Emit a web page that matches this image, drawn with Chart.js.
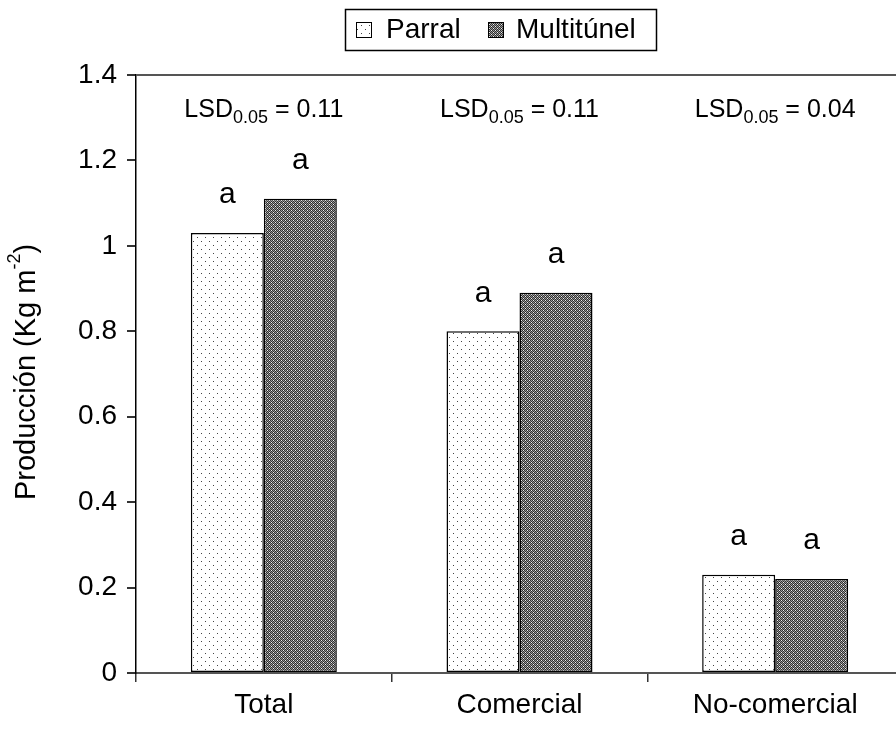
<!DOCTYPE html>
<html>
<head>
<meta charset="utf-8">
<script src="https://cdn.jsdelivr.net/npm/chart.js@4/dist/chart.umd.min.js"></script>
<style>
    html, body { margin: 0; padding: 0; background: #fff; overflow: hidden; }
</style>
</head>
<body>
<canvas id="grafico" width="903" height="731"></canvas>
<script>
const categorias = ['Total', 'Comercial', 'No-comercial'];
const parral = [1.03, 0.80, 0.23];
const multitunel = [1.11, 0.89, 0.22];
const letrasParral = ['a', 'a', 'a'];
const letrasMultitunel = ['a', 'a', 'a'];
const lsd = ['0.11', '0.11', '0.04'];
const etiquetas = ['Parral', 'Multitúnel'];

const FUENTE = '"Liberation Sans", Arial, sans-serif';

function patronPuntos() {
    const c = document.createElement('canvas');
    c.width = 8; c.height = 8;
    const g = c.getContext('2d');
    g.fillStyle = '#fff';
    g.fillRect(0, 0, 8, 8);
    g.fillStyle = '#444';
    g.fillRect(1, 1, 1, 1);
    g.fillRect(5, 5, 1, 1);
    return g.createPattern(c, 'repeat');
}

function patronDenso() {
    const c = document.createElement('canvas');
    c.width = 4; c.height = 4;
    const g = c.getContext('2d');
    for (let x = 0; x < 4; x++) {
        for (let y = 0; y < 4; y++) {
            g.fillStyle = (x + y) % 2 === 0 ? '#2e2e2e' : '#999';
            g.fillRect(x, y, 1, 1);
        }
    }
    g.fillStyle = '#eee';
    g.fillRect(1, 0, 1, 1);
    g.fillRect(3, 2, 1, 1);
    return g.createPattern(c, 'repeat');
}

const rellenos = [patronPuntos(), patronDenso()];

// letras, LSD, titulo del eje y leyenda
const anotaciones = {
    id: 'anotaciones',
    afterDatasetsDraw(chart) {
        const ctx = chart.ctx;
        const x = chart.scales.x;
        const letras = [letrasParral, letrasMultitunel];
        ctx.save();
        ctx.fillStyle = '#000';
        ctx.textAlign = 'center';
        ctx.textBaseline = 'middle';
        ctx.font = '30px ' + FUENTE;
        letras.forEach((arr, i) => {
            chart.getDatasetMeta(i).data.forEach((bar, j) => {
                ctx.fillText(arr[j], bar.x, bar.y - 38);
            });
        });

        // LSD0.05 = ...
        ctx.textBaseline = 'alphabetic';
        ctx.textAlign = 'left';
        lsd.forEach((v, j) => {
            const cx = x.getPixelForValue(j);
            ctx.font = '25px ' + FUENTE;
            const w1 = ctx.measureText('LSD').width;
            const w3 = ctx.measureText(' = ' + v).width;
            ctx.font = '18px ' + FUENTE;
            const w2 = ctx.measureText('0.05').width;
            let x0 = cx - (w1 + w2 + w3) / 2;
            ctx.font = '25px ' + FUENTE;
            ctx.fillText('LSD', x0, 117);
            ctx.font = '18px ' + FUENTE;
            ctx.fillText('0.05', x0 + w1, 123);
            ctx.font = '25px ' + FUENTE;
            ctx.fillText(' = ' + v, x0 + w1 + w2, 117);
        });

        // titulo eje y
        ctx.translate(27, 372);
        ctx.rotate(-Math.PI / 2);
        ctx.font = '29px ' + FUENTE;
        const t1 = 'Producción (Kg m';
        const wa = ctx.measureText(t1).width;
        ctx.font = '18px ' + FUENTE;
        const wb = ctx.measureText('-2').width;
        ctx.font = '29px ' + FUENTE;
        const wc = ctx.measureText(')').width;
        let p = -(wa + wb + wc) / 2;
        ctx.textBaseline = 'middle';
        ctx.fillText(t1, p, 0);
        ctx.font = '18px ' + FUENTE;
        ctx.fillText('-2', p + wa, -12);
        ctx.font = '29px ' + FUENTE;
        ctx.fillText(')', p + wa + wb, 0);
        ctx.restore();

        // leyenda
        ctx.save();
        ctx.strokeStyle = '#000';
        ctx.lineWidth = 1.5;
        ctx.strokeRect(345.5, 9.5, 311, 41);
        ctx.font = '28px ' + FUENTE;
        ctx.textBaseline = 'middle';
        ctx.fillStyle = '#000';
        const cajas = [356, 488];
        const textos = [386, 516];
        chart.data.datasets.forEach((ds, i) => {
            ctx.fillStyle = rellenos[i];
            ctx.fillRect(cajas[i], 22, 16, 16);
            ctx.lineWidth = 1;
            ctx.strokeRect(cajas[i] + 0.5, 22.5, 15, 15);
            ctx.fillStyle = '#000';
            ctx.fillText(etiquetas[i], textos[i], 30);
        });
        ctx.restore();
    }
};

const ctx = document.getElementById('grafico').getContext('2d');
const grafico = new Chart(ctx, {
    type: 'bar',
    data: {
        labels: categorias,
        datasets: [
            {
                label: etiquetas[0],
                data: parral,
                backgroundColor: rellenos[0],
                borderColor: '#000',
                borderWidth: 1.5,
                borderSkipped: false,
            },
            {
                label: etiquetas[1],
                data: multitunel,
                backgroundColor: rellenos[1],
                borderColor: '#000',
                borderWidth: 1.5,
                borderSkipped: false,
            }
        ]
    },
    options: {
        responsive: false,
        animation: false,
        layout: { padding: { top: 75, right: 0, bottom: 0, left: 0 } },
        datasets: { bar: { categoryPercentage: 0.571, barPercentage: 1.0 } },
        plugins: {
            legend: { display: false },
            tooltip: { enabled: false }
        },
        scales: {
            x: {
                afterFit: s => { s.height = 58; },
                grid: {
                    offset: true,
                    drawOnChartArea: false,
                    tickLength: 9,
                    color: '#333',
                    lineWidth: 1.5
                },
                border: { color: '#555', width: 2 },
                ticks: {
                    color: '#000',
                    padding: 6,
                    font: { family: FUENTE, size: 28 }
                }
            },
            y: {
                min: 0,
                max: 1.4,
                afterFit: s => { s.width = 136; },
                grid: {
                    drawOnChartArea: true,
                    color: c => (c.tick && Math.abs(c.tick.value - 1.4) < 1e-6) ? '#555' : 'rgba(0,0,0,0)',
                    tickColor: '#333',
                    tickLength: 9,
                    lineWidth: 2
                },
                border: { color: '#000', width: 1.5 },
                ticks: {
                    stepSize: 0.2,
                    color: '#000',
                    padding: 10,
                    font: { family: FUENTE, size: 28 },
                    callback: v => Math.round(v * 10) / 10
                }
            }
        }
    },
    plugins: [anotaciones]
});
</script>
</body>
</html>
